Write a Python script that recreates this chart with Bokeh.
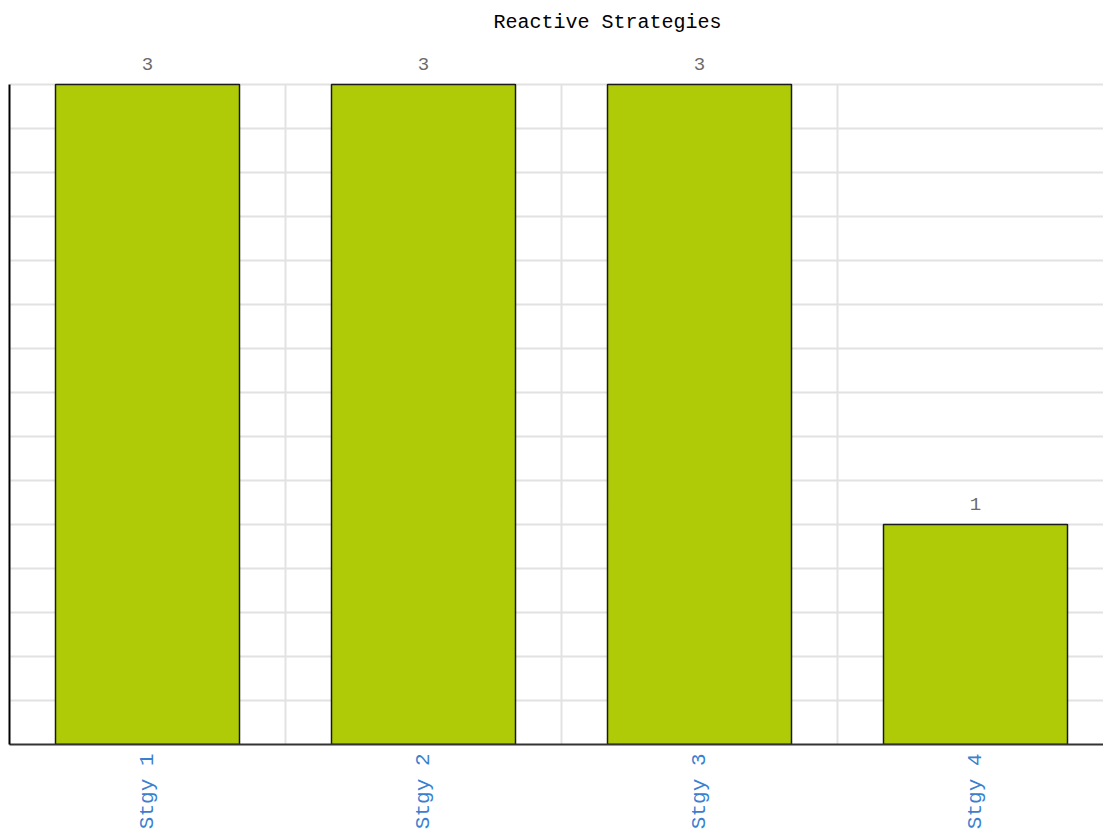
import math
from bokeh.plotting import figure
from bokeh.models import ColumnDataSource, Range1d, FixedTicker, LabelSet, Title
from bokeh.core.properties import value
from bokeh.embed import file_html
from bokeh.resources import INLINE

categories = ["Stgy 1", "Stgy 2", "Stgy 3", "Stgy 4"]
counts = [3, 3, 3, 1]
y_grid_step = 0.2
y_max = 3

FONT = "Liberation Mono"

idx = list(range(len(categories)))
source = ColumnDataSource(dict(x=idx, top=counts, label=[str(c) for c in counts]))

# layout (pixels)
fig_w, fig_h = 1103, 832
frame_left, frame_top, frame_bottom = 9, 40, 745
value_top_px = 84          # where y_max sits
cat_px = 276
frame_w = fig_w - frame_left
x_start = -0.5
x_end = x_start + frame_w / cat_px
y_end = y_max * (frame_bottom - frame_top) / (frame_bottom - value_top_px)

p = figure(width=fig_w, height=fig_h, output_backend="svg", toolbar_location=None,
           x_range=Range1d(x_start, x_end), y_range=Range1d(0, y_end),
           min_border_left=frame_left, min_border_right=0,
           min_border_top=frame_top, min_border_bottom=fig_h - frame_bottom)

p.title = Title(text="Reactive Strategies", align="left", offset=493 - frame_left,
                text_font=FONT, text_font_size="20px", text_font_style="normal",
                text_color="#000000", standoff=14)

p.outline_line_color = None
p.background_fill_color = "white"
p.border_fill_color = "white"

p.vbar(x="x", top="top", width=184 / cat_px, source=source,
       fill_color="#afcb08", line_color="#1a1a1a", line_width=1.5)

labels = LabelSet(x="x", y="top", text="label", source=source,
                  text_align="center", text_baseline="bottom", y_offset=14,
                  text_font=value(FONT), text_font_size="19px", text_color="#6b6b6b")
p.add_layout(labels)

# grids
p.xgrid.ticker = FixedTicker(ticks=[i + 0.5 for i in idx[:-1]])
p.xgrid.cross_bounds = (0, y_max)
p.ygrid.ticker = FixedTicker(ticks=[round(i * y_grid_step, 2) for i in range(int(y_max / y_grid_step) + 1)])
for g in (p.xgrid, p.ygrid):
    g.grid_line_color = "#e2e2e2"
    g.grid_line_width = 2

# x axis
p.xaxis.ticker = FixedTicker(ticks=idx)
p.xaxis.major_label_overrides = {i: c for i, c in zip(idx, categories)}
p.xaxis.major_label_orientation = math.pi / 2
p.xaxis.major_label_text_font = FONT
p.xaxis.major_label_text_font_size = "21px"
p.xaxis.major_label_text_color = "#3a80d0"
p.xaxis.major_label_standoff = 9
p.xaxis.major_tick_line_color = None
p.xaxis.minor_tick_line_color = None
p.xaxis.major_tick_out = 0
p.xaxis.minor_tick_out = 0
p.xaxis.axis_line_color = "#333333"
p.xaxis.axis_line_width = 2

# y axis: line only, no ticks or labels
p.yaxis.ticker = FixedTicker(ticks=[])
p.yaxis.bounds = (0, y_max)
p.yaxis.major_label_standoff = 0
p.yaxis.major_tick_line_color = None
p.yaxis.minor_tick_line_color = None
p.yaxis.major_tick_out = 0
p.yaxis.minor_tick_out = 0
p.yaxis.axis_line_color = "#000000"
p.yaxis.axis_line_width = 2

open("out.html", "w").write(file_html(p, INLINE))
